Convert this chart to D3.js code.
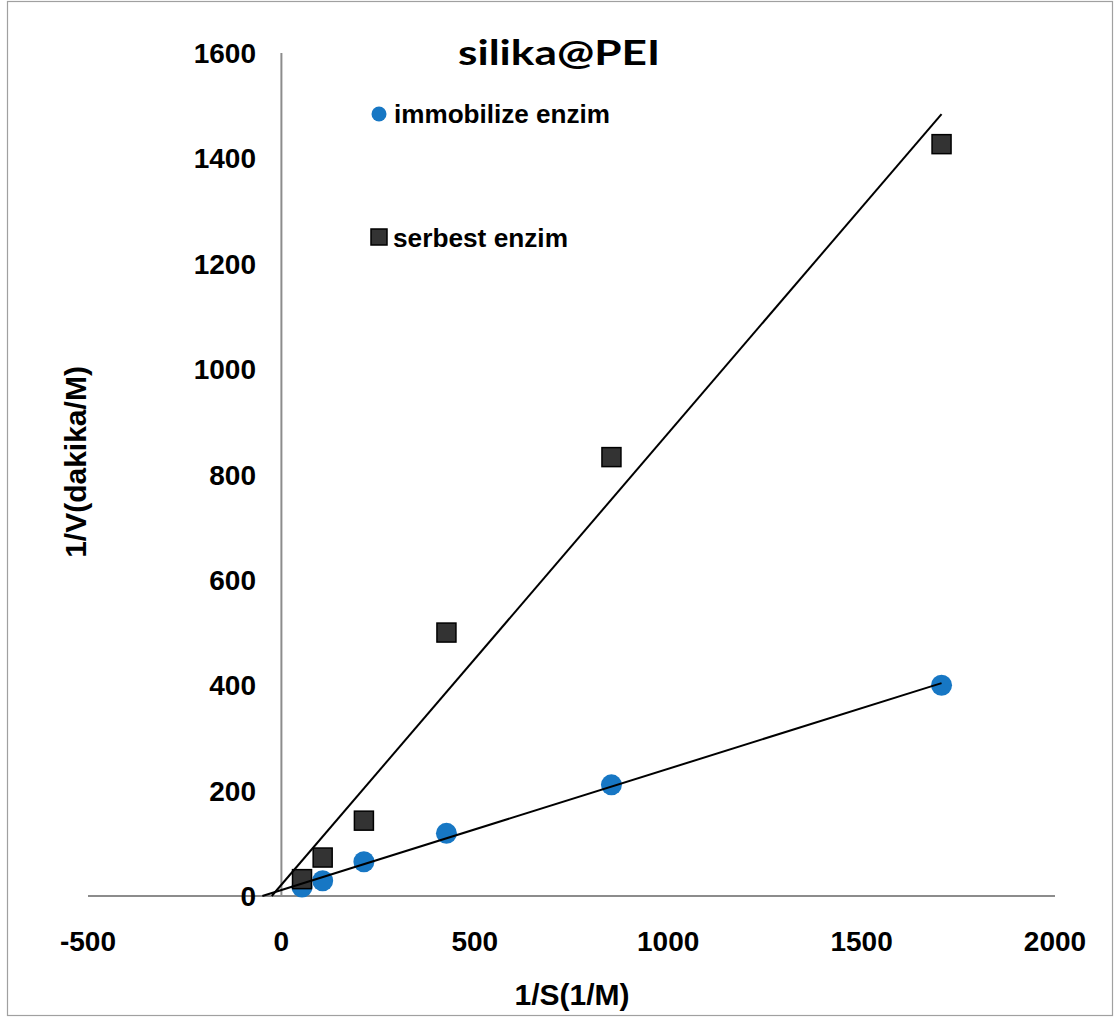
<!DOCTYPE html>
<html>
<head>
<meta charset="utf-8">
<script src="https://cdn.jsdelivr.net/npm/d3@7"></script>
<style>
  html, body { margin: 0; padding: 0; background: #fff; }
  svg { display: block; }
</style>
</head>
<body>
<svg id="chart" width="1114" height="1019"></svg>
<script>
// Lineweaver-Burk data: 1/S (1/M) against 1/V (dakika/M)
const invS = [53.3, 106.7, 213.3, 426.7, 853.3, 1706.7];
const immobilizeInvV = [17, 29, 65, 119, 211, 400];
const serbestInvV = [32, 73, 143, 500, 833, 1427];
const xTicks = [-500, 0, 500, 1000, 1500, 2000];
const yTicks = [0, 200, 400, 600, 800, 1000, 1200, 1400, 1600];
const seriesNames = ["immobilize enzim", "serbest enzim"];
const chartTitle = "silika@PEI";
const xTitle = "1/S(1/M)";
const yTitle = "1/V(dakika/M)";

const svg = d3.select("#chart");
const font = "'Liberation Sans', Arial, sans-serif";
const axisColor = "#8c8c8c";
const blue = "#1777c4";
const dark = "#333333";

// outer frame
svg.append("rect")
  .attr("x", 7.5).attr("y", 1.5)
  .attr("width", 1105).attr("height", 1014)
  .attr("fill", "#fff").attr("stroke", "#a0a0a0").attr("stroke-width", 1.2);

const x = d3.scaleLinear().domain([-500, 2000]).range([88, 1055]);
const y = d3.scaleLinear().domain([0, 1600]).range([896, 53]);

// x axis line (at y = 0) and y axis line (at x = 0), no tick marks
svg.append("line")
  .attr("x1", x(-500)).attr("x2", x(2000))
  .attr("y1", y(0)).attr("y2", y(0))
  .attr("stroke", axisColor).attr("stroke-width", 2);
svg.append("line")
  .attr("x1", x(0)).attr("x2", x(0))
  .attr("y1", y(0)).attr("y2", y(1600))
  .attr("stroke", axisColor).attr("stroke-width", 2);

// tick labels
svg.append("g").selectAll("text").data(yTicks).join("text")
  .attr("x", 256).attr("y", d => y(d) + 10)
  .attr("text-anchor", "end")
  .attr("font-family", font).attr("font-weight", "bold").attr("font-size", 28)
  .attr("fill", "#000")
  .text(d => d);

svg.append("g").selectAll("text").data(xTicks).join("text")
  .attr("x", d => x(d)).attr("y", 951)
  .attr("text-anchor", "middle")
  .attr("font-family", font).attr("font-weight", "bold").attr("font-size", 28)
  .attr("fill", "#000")
  .text(d => d);

// axis titles
svg.append("text")
  .attr("x", 572).attr("y", 1005)
  .attr("text-anchor", "middle")
  .attr("font-family", font).attr("font-weight", "bold").attr("font-size", 30)
  .text(xTitle);

svg.append("text")
  .attr("transform", "translate(86,462) rotate(-90)")
  .attr("text-anchor", "middle")
  .attr("font-family", font).attr("font-weight", "bold").attr("font-size", 30)
  .text(yTitle);

// chart title
svg.append("text")
  .attr("x", 458).attr("y", 65)
  .attr("font-family", "Lato, 'Open Sans', sans-serif").attr("font-weight", "bold")
  .attr("font-size", 34)
  .attr("textLength", 202).attr("lengthAdjust", "spacingAndGlyphs")
  .text(chartTitle);

// least-squares trendline, drawn from its x-intercept to the last point
function fit(xs, ys) {
  const mx = d3.mean(xs), my = d3.mean(ys);
  const sxy = d3.sum(xs, (v, i) => (v - mx) * (ys[i] - my));
  const sxx = d3.sum(xs, v => (v - mx) * (v - mx));
  const slope = sxy / sxx;
  return { slope, intercept: my - slope * mx };
}

// markers: circles, then squares
svg.append("g").selectAll("circle").data(invS).join("circle")
  .attr("cx", d => x(d)).attr("cy", (d, i) => y(immobilizeInvV[i]))
  .attr("r", 10.5).attr("fill", blue);

const sq = 19;
svg.append("g").selectAll("rect").data(invS).join("rect")
  .attr("x", d => x(d) - sq / 2).attr("y", (d, i) => y(serbestInvV[i]) - sq / 2)
  .attr("width", sq).attr("height", sq)
  .attr("fill", dark).attr("stroke", "#000").attr("stroke-width", 1.5);

// trendlines
[immobilizeInvV, serbestInvV].forEach(ys => {
  const f = fit(invS, ys);
  const x0 = -f.intercept / f.slope;
  const x1 = d3.max(invS);
  svg.append("line")
    .attr("x1", x(x0)).attr("y1", y(0))
    .attr("x2", x(x1)).attr("y2", y(f.intercept + f.slope * x1))
    .attr("stroke", "#000").attr("stroke-width", 2);
});

// legend
const legend = svg.append("g");
legend.append("circle").attr("cx", 379).attr("cy", 114).attr("r", 7.5).attr("fill", blue);
legend.append("text")
  .attr("x", 394).attr("y", 123)
  .attr("font-family", font).attr("font-weight", "bold").attr("font-size", 25)
  .attr("textLength", 216).attr("lengthAdjust", "spacingAndGlyphs")
  .text(seriesNames[0]);
legend.append("rect").attr("x", 371).attr("y", 229).attr("width", 16).attr("height", 16)
  .attr("fill", dark).attr("stroke", "#000").attr("stroke-width", 1.5);
legend.append("text")
  .attr("x", 393).attr("y", 247)
  .attr("font-family", font).attr("font-weight", "bold").attr("font-size", 25)
  .attr("textLength", 175).attr("lengthAdjust", "spacingAndGlyphs")
  .text(seriesNames[1]);
</script>
</body>
</html>
